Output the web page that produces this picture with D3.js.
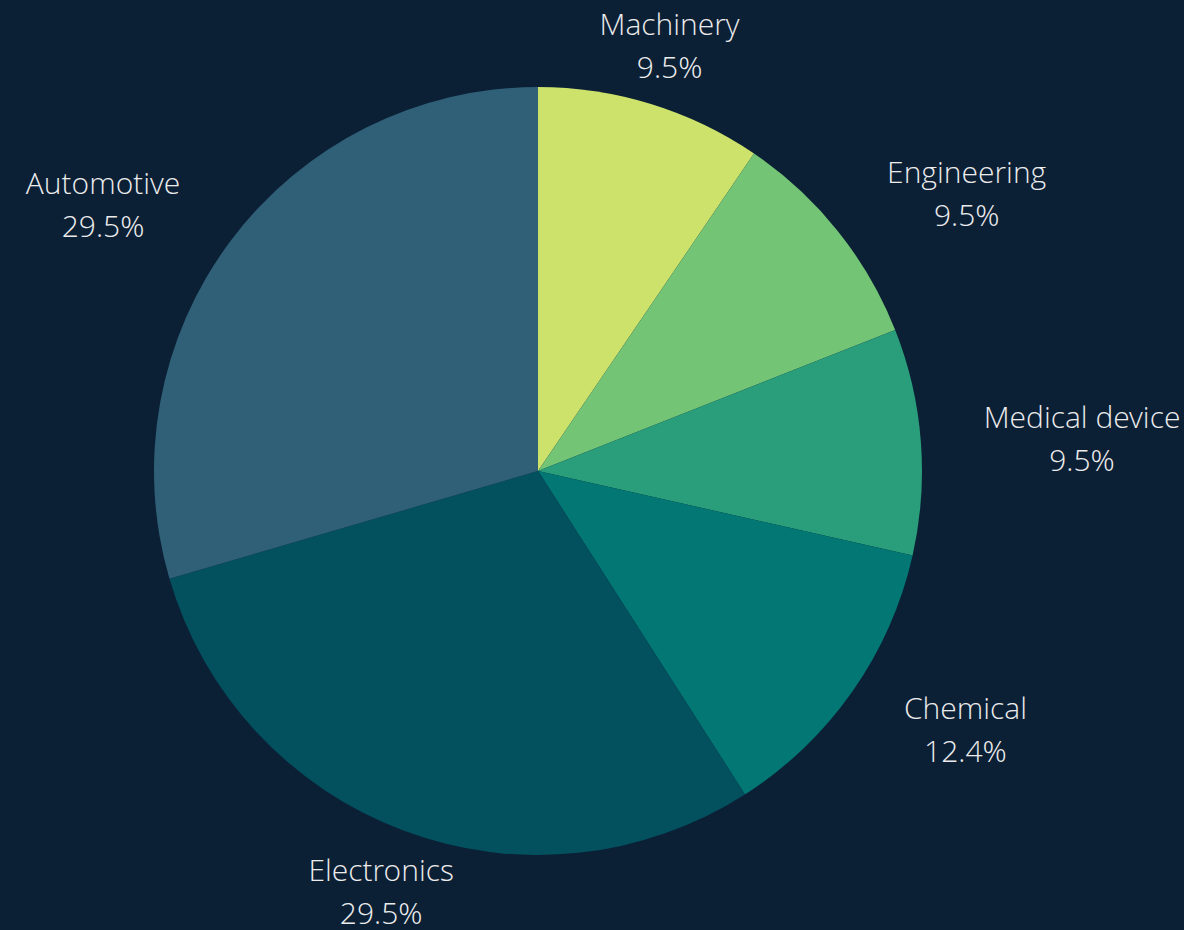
<!DOCTYPE html>
<html><head><meta charset="utf-8">
<script src="https://cdn.jsdelivr.net/npm/d3@7"></script>
<style>html,body{margin:0;padding:0;background:#0b1f35;}svg{display:block;}</style>
</head><body>
<svg id="chart" width="1184" height="930"></svg>
<script>
const categories = ["Machinery","Engineering","Medical device","Chemical","Electronics","Automotive"];
const values = [9.5, 9.5, 9.5, 12.4, 29.5, 29.5];
const colors = ["#cde26a","#74c476","#2a9d7a","#037773","#03505e","#2f6077"];

const W = 1184, H = 930, cx = 538, cy = 471, R = 384, LR = 447;
const svg = d3.select("#chart");
svg.append("rect").attr("width",W).attr("height",H).attr("fill","#0b1f35");
const data = categories.map((c,i)=>({name:c,value:values[i],color:colors[i]}));
const pie = d3.pie().value(d=>d.value).sort(null);
const arcs = pie(data);
const arc = d3.arc().innerRadius(0).outerRadius(R);
const g = svg.append("g").attr("transform",`translate(${cx},${cy})`);
g.selectAll("path").data(arcs).join("path").attr("d",arc).attr("fill",d=>d.data.color);
const lbl = g.selectAll("text.l").data(arcs).join("text").attr("class","l")
  .attr("font-family","'Open Sans Light','Open Sans', sans-serif").attr("font-weight",300).attr("font-size",30)
  .attr("fill","#ececec")
  .attr("text-anchor","middle")
  .attr("transform",d=>{const a=(d.startAngle+d.endAngle)/2; return `translate(${LR*Math.sin(a)},${-LR*Math.cos(a)})`;});
lbl.append("tspan").attr("y",-9).text(d=>d.data.name);
lbl.append("tspan").attr("y",34).text(d=>d3.format(".1f")(d.data.value)+"%");
lbl.each(function(d){
  const a=(d.startAngle+d.endAngle)/2, s=Math.sin(a);
  const spans = d3.select(this).selectAll("tspan").nodes();
  const w = Math.max(...spans.map(n=>n.getComputedTextLength()));
  const x = Math.abs(s)<0.5 ? 0 : (s>0 ? w/2 : -w/2);
  d3.select(this).selectAll("tspan").attr("x",x);
});
</script>
</body></html>
